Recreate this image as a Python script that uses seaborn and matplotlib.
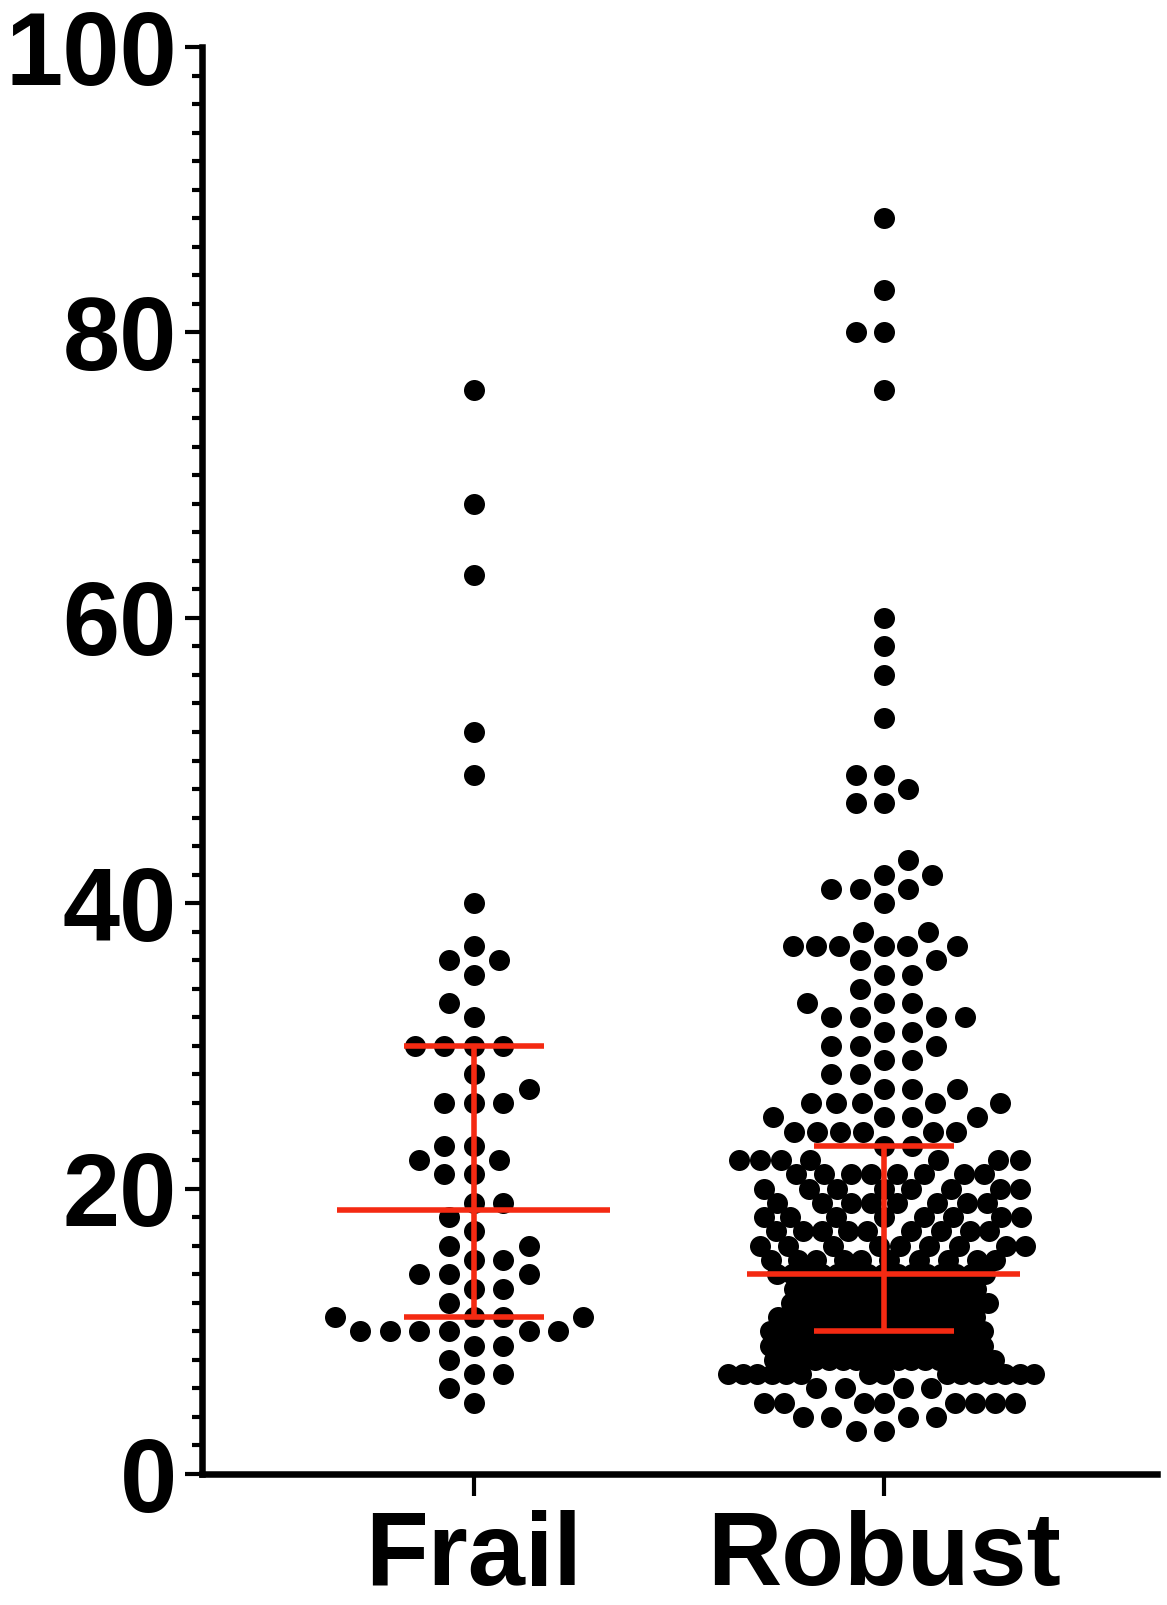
import numpy as np
import pandas as pd
import matplotlib
matplotlib.use("Agg")
import matplotlib.pyplot as plt
from matplotlib.ticker import MultipleLocator
import seaborn as sns

groups = ["Frail", "Robust"]

frail_values = [76, 68, 63, 52, 49, 40, 37, 36, 35, 33, 32, 30, 28, 27, 26, 23, 22,
                21, 19, 18, 17, 16, 15, 14, 13, 12, 11, 10, 9, 8, 7, 6, 5]
frail_counts = [1, 1, 1, 1, 1, 1, 1, 2, 1, 1, 1, 4, 1, 1, 3, 2, 2,
                2, 2, 1, 1, 2, 2, 3, 2, 1, 4, 6, 2, 1, 2, 1, 1]

robust_values = [88, 83, 80, 76, 60, 58, 56, 53, 49, 48, 47, 43, 42, 41, 40, 38, 37,
                 36, 35, 34, 33, 32, 31, 30, 29, 28, 27, 26, 25, 24, 23, 22, 21, 20,
                 19, 18, 17, 16, 15, 14, 13, 12, 11, 10, 9, 8, 7, 6, 5, 4, 3]
robust_counts = [1, 1, 2, 1, 1, 1, 1, 1, 2, 1, 2, 1, 2, 3, 1, 2, 6,
                 2, 2, 1, 3, 4, 2, 3, 2, 2, 3, 5, 4, 6, 2, 7, 8, 8,
                 8, 8, 9, 9, 10, 15, 13, 14, 14, 16, 16, 17, 15, 4, 8, 4, 2]

y_ticks = [0, 20, 40, 60, 80, 100]

frail = np.repeat(frail_values, frail_counts)
robust = np.repeat(robust_values, robust_counts)
df = pd.DataFrame({
    "group": ["Frail"] * len(frail) + ["Robust"] * len(robust),
    "value": np.r_[frail, robust],
})

sns.set_style("ticks")
plt.rcParams["font.family"] = ["Liberation Sans", "DejaVu Sans"]
plt.rcParams["font.weight"] = "bold"
plt.rcParams["text.color"] = "black"
plt.rcParams["xtick.color"] = "black"
plt.rcParams["ytick.color"] = "black"

red = "#f42a12"
fig = plt.figure(figsize=(11.67, 16.05), dpi=100)
ax = fig.add_axes([0.1731, 0.0816, 0.8183, 0.8891])

sns.swarmplot(data=df, x="group", y="value", order=groups, color="black",
              size=15, linewidth=0, warn_thresh=1, ax=ax)
ax.set_xlim(-0.663, 1.666)
ax.set_ylim(0, 100)

# lay the swarm out with its own spacing (tighter where many dots share a value),
# then freeze those positions and draw the real dot size
pt = 72 / fig.dpi
frail_pts, robust_pts = ax.collections[:2]
frail_pts.set_sizes([(28 * pt) ** 2])
ry = robust_pts.get_offsets()[:, 1]
per_value = dict(zip(robust_values, robust_counts))
n_same = np.array([per_value[int(round(v))] for v in ry])
robust_pts.set_sizes((np.clip(54 / np.sqrt(n_same), 12, 27) * pt) ** 2)
fig.canvas.draw()
for coll in (frail_pts, robust_pts):
    del coll.draw
    coll.set_sizes([(21 * pt) ** 2])

# median with interquartile range
for i, vals in enumerate([frail, robust]):
    q1, med, q3 = np.percentile(vals, [25, 50, 75])
    ax.hlines(med, i - 0.333, i + 0.333, color=red, lw=4, zorder=5)
    ax.hlines([q1, q3], i - 0.171, i + 0.171, color=red, lw=4, zorder=5)
    ax.vlines(i, q1, q3, color=red, lw=4, zorder=5)

sns.despine(ax=ax)
for side in ["left", "bottom"]:
    ax.spines[side].set_linewidth(4.7)
    ax.spines[side].set_color("black")

ax.set_yticks(y_ticks)
ax.yaxis.set_minor_locator(MultipleLocator(2))
ax.tick_params(axis="y", which="major", length=12, width=3, pad=6,
               labelsize=74, color="black", labelcolor="black")
ax.tick_params(axis="y", which="minor", length=7, width=3, color="black")
ax.tick_params(axis="x", length=16, width=3, pad=10, labelsize=74,
               color="black", labelcolor="black")
for lab in ax.get_xticklabels() + ax.get_yticklabels():
    lab.set_fontweight("bold")
ax.set_xlabel("")
ax.set_ylabel("")

fig.savefig("out.png", dpi=100)
